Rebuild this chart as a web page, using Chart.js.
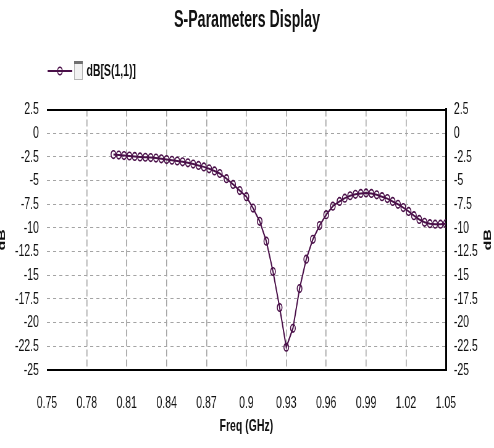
<!DOCTYPE html>
<html>
<head>
<meta charset="utf-8">
<title>S-Parameters Display</title>
<script src="https://cdn.jsdelivr.net/npm/chart.js@4"></script>
<style>
  html, body { margin: 0; padding: 0; background: #fff; overflow: hidden; }
</style>
</head>
<body>
<!-- the original plot is squeezed sideways, so the canvas is drawn wide and shown narrow -->
<canvas id="chart" width="800" height="448" style="display:block;width:494px;height:448px"></canvas>
<script>
// ---- data ----
var chartTitle = "S-Parameters Display";
var seriesName = "dB[S(1,1)]";
var xAxisTitle = "Freq (GHz)";
var yAxisTitle = "dB";

var xTickLabels = ["0.75", "0.78", "0.81", "0.84", "0.87", "0.9", "0.93", "0.96", "0.99", "1.02", "1.05"];
var yTickLabels = ["-25", "-22.5", "-20", "-17.5", "-15", "-12.5", "-10", "-7.5", "-5", "-2.5", "0", "2.5"];

var freqGHz = [
  0.800, 0.804, 0.808, 0.812, 0.816, 0.820, 0.824, 0.828, 0.832, 0.836,
  0.840, 0.844, 0.848, 0.852, 0.856, 0.860, 0.864, 0.868, 0.872, 0.876, 0.880,
  0.885, 0.890, 0.895, 0.900, 0.905, 0.910, 0.915, 0.920, 0.925, 0.930,
  0.935, 0.940, 0.945, 0.950, 0.955, 0.960, 0.965,
  0.970, 0.974, 0.978, 0.982, 0.986, 0.990, 0.994, 0.998, 1.002, 1.006,
  1.010, 1.014, 1.018, 1.022, 1.026, 1.030, 1.034, 1.038, 1.042, 1.046, 1.050
];
var s11dB = [
  -2.25, -2.30, -2.35, -2.40, -2.45, -2.50, -2.53, -2.57, -2.62, -2.70,
  -2.78, -2.85, -2.93, -3.02, -3.12, -3.25, -3.40, -3.55, -3.75, -3.98, -4.25,
  -4.80, -5.40, -6.05, -6.70, -7.90, -9.30, -11.4, -14.6, -18.4, -22.6,
  -20.6, -16.4, -13.3, -11.2, -9.75, -8.60, -7.70,
  -7.20, -6.85, -6.60, -6.45, -6.35, -6.30, -6.35, -6.50, -6.70, -6.90,
  -7.20, -7.50, -7.85, -8.25, -8.70, -9.10, -9.40, -9.55, -9.60, -9.60, -9.55
];

// ---- look ----
var lineColor = "#4a1049";
var textColor = "#111";
var gridColor = "#a4a4a4";
var fontFamily = "'Liberation Sans', Arial, sans-serif";

var points = freqGHz.map(function(f, i) {
  return { x: f, y: s11dB[i] };
});

// legend entry and the two rotated "dB" titles
var extras = {
  id: "extras",
  afterDraw: function(chart) {
    var ctx = chart.ctx;
    var area = chart.chartArea;
    ctx.save();
    ctx.strokeStyle = lineColor;
    ctx.lineWidth = 2;
    ctx.beginPath();
    ctx.moveTo(77, 71);
    ctx.lineTo(117, 71);
    ctx.stroke();
    ctx.lineWidth = 1.5;
    ctx.beginPath();
    ctx.arc(97, 71, 3.8, 0, Math.PI * 2);
    ctx.stroke();

    ctx.fillStyle = "#f2f2f2";
    ctx.fillRect(120, 61, 14, 19);
    ctx.strokeStyle = "#b4b4b4";
    ctx.lineWidth = 1;
    ctx.strokeRect(120.5, 61.5, 13, 18);
    ctx.fillStyle = "#707070";
    ctx.fillRect(120, 61, 14, 3);

    ctx.fillStyle = textColor;
    ctx.font = "bold 17px " + fontFamily;
    ctx.textBaseline = "middle";
    ctx.textAlign = "left";
    ctx.fillText(seriesName, 140, 71);

    var midY = (area.top + area.bottom) / 2;
    ctx.font = "bold 16px " + fontFamily;
    ctx.textAlign = "center";
    [3.5, chart.width - 9].forEach(function(x) {
      ctx.save();
      ctx.translate(x, midY);
      ctx.rotate(-Math.PI / 2);
      ctx.fillText(yAxisTitle, 0, 0);
      ctx.restore();
    });
    ctx.restore();
  }
};

var ctx = document.getElementById("chart").getContext("2d");
var config = {
  type: "line",
  data: {
    datasets: [{
      label: seriesName,
      data: points,
      borderColor: lineColor,
      borderWidth: 2,
      backgroundColor: "rgba(0,0,0,0)",
      pointStyle: "circle",
      pointRadius: 3.8,
      pointBorderWidth: 1.6,
      pointBorderColor: lineColor,
      pointBackgroundColor: "rgba(0,0,0,0)",
      tension: 0,
      fill: false
    }]
  },
  options: {
    responsive: false,
    devicePixelRatio: 1,
    animation: false,
    events: [],
    plugins: {
      legend: { display: false },
      tooltip: { enabled: false },
      title: {
        display: true,
        text: chartTitle,
        color: textColor,
        font: { family: fontFamily, size: 23, weight: "bold" },
        padding: { top: 7, bottom: 75 }
      }
    },
    scales: {
      x: {
        type: "linear",
        min: 0.75,
        max: 1.05,
        afterFit: function(scale) { scale.height = 78; },
        ticks: {
          stepSize: 0.03,
          padding: 23,
          color: textColor,
          font: { family: fontFamily, size: 17 },
          callback: function(v, i) { return xTickLabels[i]; }
        },
        grid: {
          drawTicks: false,
          lineWidth: 1.6,
          color: function(c) {
            if (!c.tick) return gridColor;
            return (c.tick.value === 0.75 || c.tick.value === 1.05) ? "rgba(0,0,0,0)" : gridColor;
          }
        },
        border: { display: false, dash: [7, 3] },
        title: {
          display: true,
          text: xAxisTitle,
          color: textColor,
          font: { family: fontFamily, size: 17, weight: "bold" },
          padding: { top: 0, bottom: 11 }
        }
      },
      y: {
        position: "left",
        min: -25,
        max: 2.5,
        afterFit: function(scale) { scale.width = 76; },
        ticks: {
          stepSize: 2.5,
          padding: 13,
          color: textColor,
          font: { family: fontFamily, size: 17 },
          callback: function(v, i) { return yTickLabels[i]; }
        },
        grid: {
          drawTicks: false,
          color: function(c) {
            if (!c.tick) return gridColor;
            return (c.tick.value === 2.5 || c.tick.value === -25) ? "#000" : gridColor;
          },
          lineWidth: function(c) {
            if (!c.tick) return 1;
            return (c.tick.value === 2.5 || c.tick.value === -25) ? 2 : 1;
          }
        },
        border: {
          display: false,
          dash: function(c) {
            if (!c.tick) return [];
            return (c.tick.value === 2.5 || c.tick.value === -25) ? [] : [5, 5];
          }
        }
      },
      y2: {
        position: "right",
        min: -25,
        max: 2.5,
        afterFit: function(scale) { scale.width = 78; },
        ticks: {
          stepSize: 2.5,
          padding: 13,
          color: textColor,
          font: { family: fontFamily, size: 17 },
          callback: function(v, i) { return yTickLabels[i]; }
        },
        grid: { display: false, drawTicks: false },
        border: { display: true, color: "#000", width: 3 }
      }
    }
  },
  plugins: [extras]
};

var chart = new Chart(ctx, config);
</script>
</body>
</html>
